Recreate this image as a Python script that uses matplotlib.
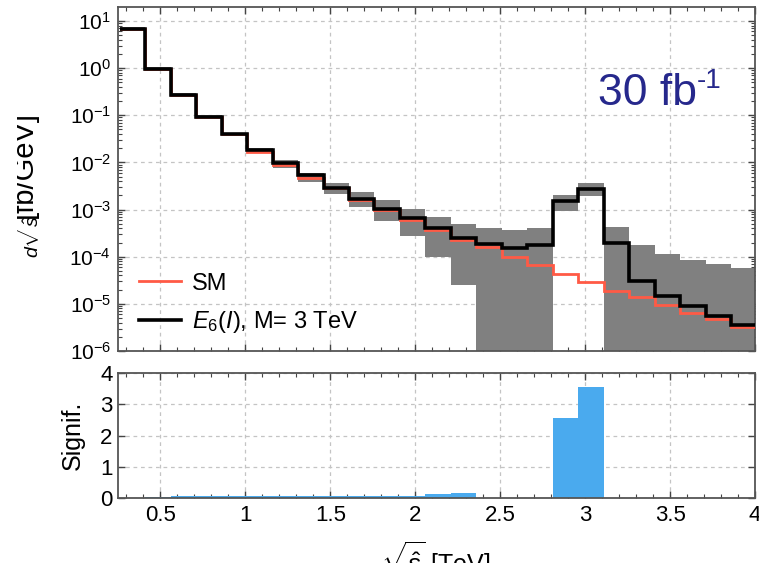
"""Invariant mass spectrum, SM vs E6(I) Z' with significance panel"""

import numpy as np
import matplotlib
matplotlib.use('Agg')
import matplotlib.pyplot as plt
from matplotlib.ticker import MultipleLocator, LogLocator, NullFormatter, FuncFormatter
from matplotlib.transforms import Bbox

plt.rcParams['font.family'] = ['Liberation Sans', 'DejaVu Sans']
plt.rcParams['mathtext.fontset'] = 'custom'
plt.rcParams['mathtext.rm'] = 'Liberation Sans'
plt.rcParams['mathtext.it'] = 'Liberation Sans:italic'
plt.rcParams['mathtext.bf'] = 'Liberation Sans:bold'

# bin edges in TeV
edges = [0.26, 0.41, 0.56, 0.71, 0.86, 1.01, 1.16, 1.31, 1.46, 1.61, 1.76, 1.91, 2.06,
         2.21, 2.36, 2.51, 2.66, 2.81, 2.96, 3.11, 3.26, 3.41, 3.56, 3.71, 3.86, 4.01]

# d sigma / d sqrt(s) [fb/GeV]
sm = [6.6, 0.95, 0.27, 0.092, 0.040, 0.017, 0.0090, 0.0047, 0.0028, 0.0016, 9.6e-4,
      6.0e-4, 3.7e-4, 2.3e-4, 1.6e-4, 1.0e-4, 6.6e-5, 4.4e-5, 2.9e-5, 1.9e-5, 1.4e-5,
      9.3e-6, 6.5e-6, 4.7e-6, 3.2e-6]
e6 = [6.7, 0.96, 0.27, 0.094, 0.040, 0.018, 0.0097, 0.0053, 0.0029, 0.00167, 1.02e-3,
      6.6e-4, 4.1e-4, 2.5e-4, 1.9e-4, 1.5e-4, 1.74e-4, 1.55e-3, 2.75e-3, 1.95e-4, 3.1e-5,
      1.5e-5, 9.1e-6, 5.6e-6, 3.6e-6]

# statistical band (30 fb^-1); 1e-9 means the band reaches zero
band_hi = [7.3, 1.04, 0.29, 0.10, 0.043, 0.0207, 0.0114, 0.0059, 0.00375, 0.00235, 1.57e-3,
           1.02e-3, 7.0e-4, 5.0e-4, 4.0e-4, 3.7e-4, 4.1e-4, 2.06e-3, 3.63e-3, 4.3e-4, 1.74e-4,
           1.15e-4, 8.7e-5, 7.0e-5, 5.8e-5]
band_lo = [6.1, 0.88, 0.25, 0.086, 0.037, 0.0162, 0.0078, 0.0039, 0.00213, 0.00111, 5.6e-4,
           2.7e-4, 1.0e-4, 2.5e-5, 1e-9, 1e-9, 1e-9, 9.1e-4, 1.96e-3, 1e-9, 1e-9,
           1e-9, 1e-9, 1e-9, 1e-9]

# significance per bin
signif = [0.0, 0.03, 0.05, 0.05, 0.05, 0.05, 0.05, 0.05, 0.06, 0.07, 0.07, 0.08, 0.12,
          0.16, 0.0, 0.0, 0.0, 2.57, 3.55, 0.0, 0.0, 0.0, 0.0, 0.0, 0.0]

W, H = 759, 563


def style_axis(ax):
    """ inward ticks on all four sides, dashed grid, grey frame"""
    ax.tick_params(which='both', direction='in', top=True, right=True,
                   color='#444444')
    ax.tick_params(which='major', length=5, width=1)
    ax.tick_params(which='minor', length=3, width=0.8)
    ax.xaxis.set_major_locator(MultipleLocator(0.5))
    ax.xaxis.set_minor_locator(MultipleLocator(0.1))
    ax.grid(True, which='major', color='#c4c4c4', linestyle=(0, (3, 3)), lw=0.9)
    ax.set_axisbelow(True)
    for sp in ax.spines.values():
        sp.set_color('#555555')
        sp.set_linewidth(1.3)


fig = plt.figure(figsize=(W / 100, H / 100), dpi=100)
ax = fig.add_axes([118 / W, 1 - 351 / H, 637 / W, 344 / H])
ax2 = fig.add_axes([118 / W, 1 - 498 / H, 637 / W, 125 / H])

# top panel
ax.set_yscale('log')
ax.stairs(band_hi, edges, baseline=band_lo, fill=True, color='#808080', zorder=2)
ax.stairs(sm, edges, baseline=None, color='#ff5a45', lw=2.0, zorder=3, label='SM')
ax.stairs(e6, edges, baseline=None, color='black', lw=2.6, zorder=4,
          label=r'$E_6(I)$, M= 3 TeV')
ax.set_xlim(0.25, 4.0)
ax.set_ylim(1e-6, 19.8)
style_axis(ax)
ax.yaxis.set_major_locator(LogLocator(base=10, numticks=12))
ax.yaxis.set_minor_locator(LogLocator(base=10, subs=np.arange(2, 10), numticks=12))
ax.yaxis.set_minor_formatter(NullFormatter())
ax.tick_params(axis='x', labelbottom=False)
ax.tick_params(axis='y', labelsize=15, pad=5)

# luminosity tag
fig.text(598 / W, 1 - 105 / H, '30 fb', ha='left', va='baseline',
         fontsize=32, color='#26288c')
fig.text(697 / W, 1 - 88 / H, '-1', ha='left', va='baseline',
         fontsize=20, color='#26288c')

ax.legend(loc='lower left', frameon=False, fontsize=17, handlelength=1.75,
          handletextpad=0.5, labelspacing=0.6, bbox_to_anchor=(0.0, -0.015))

# bottom panel
ax2.stairs(signif, edges, baseline=0, fill=True, color='#4aaaee', zorder=2)
ax2.set_xlim(0.25, 4.0)
ax2.set_ylim(0, 4)
style_axis(ax2)
ax2.yaxis.set_major_locator(MultipleLocator(1))
ax2.xaxis.set_major_formatter(FuncFormatter(lambda v, p: '%g' % v))
ax2.tick_params(axis='both', labelsize=16)
ax2.tick_params(axis='x', pad=5)
ax2.tick_params(axis='y', pad=4)
ax2.set_ylabel('Signif.', fontsize=18, labelpad=11)

# y title, its left part is cut away in the original picture
clip = Bbox([[17, 0], [W, H]])
frac = fig.text(43 / W, 1 - 235 / H, r'$\frac{d\sigma}{d\sqrt{\hat{s}}}$',
                rotation=90, ha='right', va='center', fontsize=20)
unit = fig.text(38 / W, 1 - 165 / H, '[fb/GeV]',
                rotation=90, ha='right', va='center', fontsize=21)
for t in (frac, unit):
    t.set_clip_box(clip)
    t.set_clip_on(True)

fig.text(436 / W, 1 - 540 / H, r'$\sqrt{\hat{s}}$ [TeV]', ha='center', va='top',
         fontsize=18)

fig.savefig('out.png', dpi=100)
